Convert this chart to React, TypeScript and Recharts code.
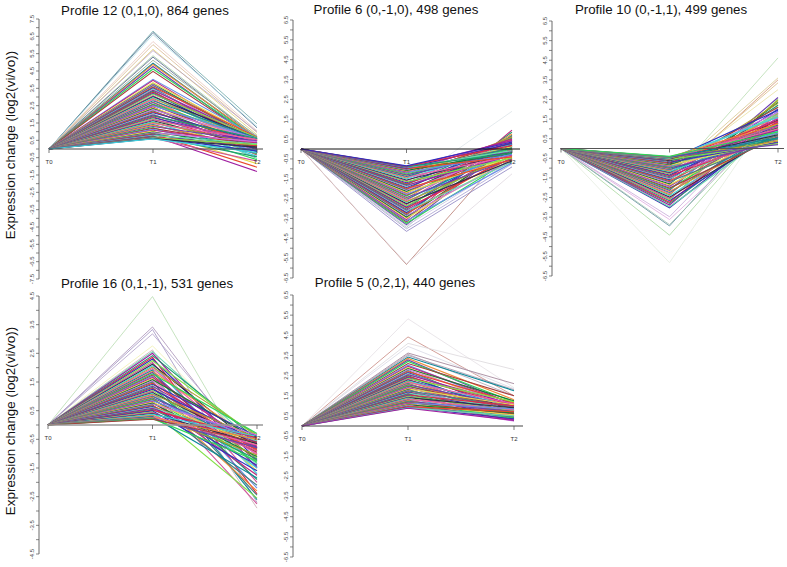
import { LineChart, Line, XAxis, YAxis, ReferenceLine } from "recharts";

const times = [0, 1, 2];
const timeLabels = ["T0", "T1", "T2"];

const ticks75 = [7.5, 7, 6.5, 6, 5.5, 5, 4.5, 4, 3.5, 3, 2.5, 2, 1.5, 1, 0.5, 0, -0.5, -1, -1.5, -2, -2.5, -3, -3.5, -4, -4.5, -5, -5.5, -6, -6.5, -7, -7.5];
const ticks65 = [6.5, 6, 5.5, 5, 4.5, 4, 3.5, 3, 2.5, 2, 1.5, 1, 0.5, 0, -0.5, -1, -1.5, -2, -2.5, -3, -3.5, -4, -4.5, -5, -5.5, -6, -6.5];
const ticks45 = [4.5, 4, 3.5, 3, 2.5, 2, 1.5, 1, 0.5, 0, -0.5, -1, -1.5, -2, -2.5, -3, -3.5, -4, -4.5];

const palette = [
  "#a01fa0", "#1f9a70", "#e02a48", "#2f2fc0", "#84e04a", "#d0559a", "#30304a", "#3fd0e0",
  "#b0a030", "#f060a8", "#0f8a9a", "#f08c3a", "#6f40b0", "#30d858", "#a83c3c", "#6a90e8",
  "#c02a80", "#e8dc50", "#1a7a34", "#d070e0", "#4a8080", "#e84a2a", "#3a30b0", "#70d8b0",
];

// palest / odd lines at the outside of each fan
const p12Outer = ["#6fa8a8", "#4a6a8a", "#a8d8e0", "#e8c8c0", "#d8b890", "#e0d070", "#b8a0c8", "#a0c8a0", "#50608a", "#90a890"];
const p6Outer = ["#b87a70", "#e0d8e0", "#8a80c0", "#a8a0d0", "#b0c8c0", "#c8c0e0", "#dde4e8"];
const p10Outer = ["#b8dcb0", "#d8c890", "#d09070", "#d8b880", "#e8e0a0", "#e4ece0", "#a8d8a0", "#5a8a9a", "#a0c0b0", "#e0a8e0", "#c8a8d8"];
const p16Outer = ["#b8dcb0", "#a890b8", "#a090c0", "#b0a0c8", "#f0f0b0", "#c8a8b0"];
const p5Outer = ["#e4e0e4", "#c88880", "#dcd8dc", "#d8d8e4", "#9a7a90", "#b0a0b0", "#a090a8"];

const p12T1 = [
  6.8, 6.72, 6.6, 6.2, 6.02, 5.75, 5.68, 5.38, 5.3, 5.12,
  4.95, 4.88, 4.76, 4.62, 4.48, 4.02, 3.96, 3.82, 3.74, 3.71,
  3.66, 3.58, 3.52, 3.47, 3.39, 3.33, 3.28, 3.21, 3.17, 3.08,
  3.02, 2.97, 2.91, 2.86, 2.78, 2.71, 2.68, 2.59, 2.54, 2.5,
  2.43, 2.38, 2.33, 2.27, 2.2, 2.14, 2.09, 2.03, 1.97, 1.91,
  1.86, 1.8, 1.76, 1.69, 1.63, 1.58, 1.52, 1.47, 1.41, 1.36,
  1.3, 1.24, 1.19, 1.13, 1.08, 1.03, 0.98, 0.94, 0.9, 0.86,
  0.82, 0.79, 0.75, 0.72, 0.69, 0.66, 0.64, 0.62, 0.6, 0.58,
];
const p12T2 = [
  1.45, 1.22, 1.3, 1.05, 0.95, 0.82, 1.0, 0.7, 0.62, 0.75,
  0.58, 0.66, 0.45, 0.6, 0.52, 0.7, 0.38, 0.64, 0.48, 0.28,
  0.55, 0.68, 0.2, 0.42, 0.6, -0.1, 0.5, 0.34, 0.66, 0.12,
  0.57, 0.25, 0.44, -0.2, 0.62, 0.3, 0.05, 0.53, 0.18, 0.6,
  -0.35, 0.4, 0.1, 0.58, -0.05, 0.32, 0.48, -0.55, 0.22, 0.6,
  0.02, 0.38, -0.3, 0.5, 0.15, -0.42, 0.28, 0.55, -0.15, 0.08,
  0.45, -0.62, 0.2, -0.08, 0.35, -0.85, 0.12, 0.42, -0.25, -1.05,
  0.05, 0.3, -1.3, -0.45, 0.18, -0.12, 0.25, -0.7, 0.1, -0.2,
];

const p6T1 = [
  -5.82, -5.78, -4.15, -4.02, -3.95, -3.87, -1.81, -3.81, -3.74, -3.67, -3.62,
  -3.56, -3.48, -3.43, -3.36, -3.31, -3.25, -3.2, -3.13, -3.08, -3.03,
  -2.96, -2.92, -2.86, -2.8, -2.75, -2.69, -2.65, -2.6, -2.53, -2.49,
  -2.44, -2.37, -2.33, -2.28, -2.22, -2.18, -2.13, -2.07, -2.03, -1.98,
  -1.94, -1.89, -1.83, -1.79, -1.75, -1.7, -1.64, -1.6, -1.56, -1.51,
  -1.46, -1.42, -1.38, -1.33, -1.3, -1.26, -1.21, -1.18, -1.14, -1.11,
  -1.08, -1.04, -1.02, -0.99, -0.96, -0.93, -0.91, -0.89, -0.87, -0.85,
];
const p6T2 = [
  0.2, -1.25, -0.9, -0.75, 0.55, -0.6, 1.9, 0.25, -0.5, 0.3, -0.7,
  0.95, -0.4, 0.15, -0.55, 0.7, -0.3, 0.4, -0.65, 0.05, 0.85,
  -0.45, 0.25, -0.2, 0.6, -0.6, 0.1, -0.35, 0.5, -0.1, 0.75,
  -0.5, 0.35, 0.0, -0.25, 0.45, -0.4, 0.2, -0.15, 0.65, -0.55,
  0.08, 0.3, -0.3, 0.55, -0.05, 0.15, -0.45, 0.4, -0.2, 0.25,
  0.6, -0.35, 0.1, 0.45, -0.1, 0.02, 0.32, -0.28, 0.5, 0.12,
  -0.18, 0.38, 0.05, -0.4, 0.28, -0.08, 0.42, -0.22, 0.18, 0.35,
];

const p10T1 = [
  -1.62, -1.3, -1.55, -1.42, -1.2,
  -5.82, -4.42, -3.95, -3.88, -3.62, -3.48, -3.02, -2.97, -2.88, -2.8,
  -2.74, -2.66, -2.61, -2.55, -2.48, -2.42, -2.36, -2.3, -2.24, -2.19,
  -2.13, -2.07, -2.02, -1.96, -1.91, -1.85, -1.8, -1.74, -1.69, -1.64,
  -1.59, -1.54, -1.49, -1.44, -1.39, -1.35, -1.3, -1.26, -1.22, -1.18,
  -1.14, -1.1, -1.07, -1.03, -1.0, -0.97, -0.94, -0.91, -0.88, -0.85,
  -0.82, -0.79, -0.76, -0.73, -0.7, -0.67, -0.65, -0.62, -0.6, -0.58,
  -0.56, -0.54, -0.52, -0.5, -0.48, -0.46, -0.45, -0.43, -0.42, -0.4,
];
const p10T2 = [
  4.62, 3.6, 3.5, 3.35, 3.0,
  2.3, 1.9, 2.1, 1.7, 1.5, 2.2, 1.3, 1.0, 1.8, 1.2,
  1.6, 0.9, 2.5, 1.4, 0.8, 1.1, 2.45, 1.75, 1.0, 0.7,
  2.6, 1.3, 0.6, 1.9, 1.15, 0.85, 2.35, 1.55, 0.5, 1.0,
  2.0, 0.75, 1.35, 2.2, 0.6, 1.2, 1.8, 0.45, 1.45, 0.9,
  2.3, 1.1, 0.55, 1.65, 0.35, 1.25, 2.1, 0.8, 1.5, 0.4,
  1.05, 1.85, 0.65, 1.3, 0.3, 1.7, 0.95, 0.5, 1.4, 1.95,
  0.25, 1.15, 0.7, 1.6, 0.38, 1.0, 0.55, 1.25, 0.2, 0.85,
];

const p16T1 = [
  4.48, 3.42, 3.33, 3.18, 2.76, 2.62, 2.56, 2.5, 2.42, 2.36,
  2.3, 2.24, 2.18, 2.12, 2.07, 2.02, 1.97, 1.92, 1.87, 1.83,
  1.78, 1.74, 1.7, 1.66, 1.62, 1.58, 1.54, 1.5, 1.46, 1.42,
  1.38, 1.35, 1.31, 1.28, 1.24, 1.2, 1.17, 1.13, 1.1, 1.07,
  1.03, 1.0, 0.97, 0.94, 0.91, 0.88, 0.85, 0.82, 0.79, 0.76,
  0.73, 0.7, 0.67, 0.64, 0.61, 0.58, 0.55, 0.52, 0.49, 0.46,
  0.43, 0.4, 0.37, 0.34, 0.31, 0.29, 0.26, 0.24, 0.22, 0.2,
];
const p16T2 = [
  -1.8, -1.35, -2.7, -1.1, -0.9, -2.9, -0.7, -1.5, -0.5, -2.4,
  -1.2, -0.4, -2.0, -0.8, -1.7, -0.35, -1.0, -2.6, -0.6, -1.45,
  -0.3, -1.25, -2.2, -0.75, -1.6, -0.5, -1.05, -2.45, -0.9, -0.4,
  -1.35, -0.65, -1.9, -0.85, -0.55, -1.15, -2.75, -0.7, -1.5, -0.45,
  -1.0, -0.8, -2.3, -0.6, -1.3, -0.95, -0.5, -1.75, -0.7, -1.1,
  -0.35, -2.1, -0.85, -1.4, -0.55, -0.75, -1.2, -0.45, -1.6, -2.55,
  -0.9, -0.65, -0.4, -1.05, -0.7, -1.85, -0.5, -0.8, -1.25, -0.6,
];

const p5T1 = [
  5.32, 4.42, 4.1, 3.95, 3.62, 3.56, 3.5, 3.42, 3.35, 3.28,
  3.2, 3.1, 3.02, 2.96, 2.9, 2.85, 2.8, 2.75, 2.7, 2.65,
  2.6, 2.55, 2.5, 2.45, 2.4, 2.36, 2.32, 2.28, 2.24, 2.2,
  2.16, 2.12, 2.08, 2.04, 2.0, 1.96, 1.92, 1.88, 1.84, 1.8,
  1.77, 1.74, 1.7, 1.67, 1.63, 1.6, 1.57, 1.54, 1.5, 1.47,
  1.44, 1.41, 1.38, 1.35, 1.32, 1.29, 1.26, 1.23, 1.2, 1.17,
  1.14, 1.11, 1.08, 1.05, 1.02, 0.99, 0.96, 0.93, 0.9, 0.88,
];
const p5T2 = [
  1.9, 1.5, 2.8, 1.85, 2.1, 1.5, 1.8, 1.75, 1.3, 1.05,
  1.2, 1.5, 0.95, 1.1, 0.8, 1.25, 1.0, 0.6, 1.15, 0.75,
  0.9, 1.05, 0.5, 1.0, 0.7, 1.2, 0.45, 0.85, 0.95, 0.6,
  1.1, 0.35, 0.75, 1.0, 0.55, 0.9, 0.4, 0.8, 1.05, 0.3,
  0.65, 0.95, 0.5, 0.7, 0.85, 0.28, 0.6, 1.0, 0.42, 0.75,
  0.55, 0.9, 0.32, 0.68, 0.8, 0.26, 0.5, 0.72, 0.4, 0.6,
  0.85, 0.3, 0.55, 0.65, 0.25, 0.45, 0.7, 0.35, 0.5, 0.28,
];

const FONT = "'Liberation Sans', Arial, sans-serif";

// panel boxes in page pixels
const panels = [
  { title: "Profile 12 (0,1,0), 864 genes", titleX: 145, titleY: 10, t1: p12T1, t2: p12T2, outer: p12Outer, ticks: ticks75, axisX: 39, t0X: 49, t2X: 257, endX: 263, topY: 19, bottomY: 279, zeroColor: "#444", zeroWidth: 1, shift: 0 },
  { title: "Profile 6 (0,-1,0), 498 genes", titleX: 396, titleY: 9, t1: p6T1, t2: p6T2, outer: p6Outer, ticks: ticks65, axisX: 293, t0X: 301, t2X: 512, endX: 520, topY: 20, bottomY: 278, zeroColor: "#111", zeroWidth: 1, shift: 5 },
  { title: "Profile 10 (0,-1,1), 499 genes", titleX: 661, titleY: 9, t1: p10T1, t2: p10T2, outer: p10Outer, ticks: ticks65, axisX: 552, t0X: 561, t2X: 778, endX: 784, topY: 21, bottomY: 276, zeroColor: "#555", zeroWidth: 1, shift: 11 },
  { title: "Profile 16 (0,1,-1), 531 genes", titleX: 147, titleY: 283, t1: p16T1, t2: p16T2, outer: p16Outer, ticks: ticks45, axisX: 39, t0X: 48, t2X: 257, endX: 263, topY: 296, bottomY: 554, zeroColor: "#999", zeroWidth: 1.6, shift: 17 },
  { title: "Profile 5 (0,2,1), 440 genes", titleX: 395, titleY: 282, t1: p5T1, t2: p5T2, outer: p5Outer, ticks: ticks65, axisX: 293, t0X: 302, t2X: 514, endX: 523, topY: 295, bottomY: 557, zeroColor: "#444", zeroWidth: 1, shift: 3 },
];

type Panel = (typeof panels)[number];

const AXIS_W = 20;
const PAD = 8;
const X_H = 2;

const buildRows = (t1: number[], t2: number[]) =>
  times.map((time) => {
    const row: Record<string, number> = { time };
    t1.forEach((v, i) => {
      row[`g${i}`] = time === 0 ? 0 : time === 1 ? v : t2[i];
    });
    return row;
  });

const YTick = ({ x, y, payload }: any) => {
  const v = payload.value;
  // only the odd half steps carry a label
  if (Number.isInteger(v)) return null;
  return (
    <text x={x} y={y} transform={`rotate(-90 ${x} ${y})`} textAnchor="middle" fontSize={6} fontFamily={FONT} fill="#444">
      {v}
    </text>
  );
};

const ProfilePanel = ({ p }: { p: Panel }) => {
  const unit = (p.t2X - p.t0X) / 2;
  const xMin = -(p.t0X - p.axisX) / unit;
  const xMax = 2 + (p.endX - p.t2X) / unit;
  const lim = p.ticks[0];
  const boxTop = p.topY - PAD;
  const zeroY = PAD + (p.bottomY - p.topY) / 2;
  const rows = buildRows(p.t1, p.t2);
  return (
    <div style={{ position: "absolute", left: p.axisX - AXIS_W, top: boxTop }}>
      <LineChart
        width={p.endX - p.axisX + AXIS_W + PAD}
        height={p.bottomY - p.topY + 2 * PAD}
        data={rows}
        margin={{ top: PAD, right: PAD, bottom: PAD - X_H, left: 0 }}
      >
        <XAxis
          dataKey="time"
          type="number"
          domain={[xMin, xMax]}
          ticks={times}
          interval={0}
          allowDataOverflow
          height={X_H}
          axisLine={false}
          tickLine={false}
          tick={(t: any) => (
            <g>
              <line x1={t.x} x2={t.x} y1={zeroY} y2={zeroY + 4} stroke="#444" strokeWidth={0.7} />
              <text x={t.x} y={zeroY + 15} textAnchor="middle" fontSize={6} fontFamily={FONT} fill="#333">
                {timeLabels[t.payload.value]}
              </text>
            </g>
          )}
        />
        <YAxis
          type="number"
          width={AXIS_W}
          domain={[-lim, lim]}
          ticks={p.ticks}
          interval={0}
          allowDataOverflow
          axisLine={{ stroke: "#444", strokeWidth: 0.8 }}
          tickLine={{ stroke: "#555", strokeWidth: 0.7 }}
          tickSize={3}
          tickMargin={2}
          tick={YTick}
        />
        {p.t1.map((_, i) => (
          <Line
            key={i}
            dataKey={`g${i}`}
            stroke={i < p.outer.length ? p.outer[i] : palette[(i + p.shift) % palette.length]}
            strokeWidth={i < p.outer.length ? 0.8 : 1.15}
            dot={false}
            isAnimationActive={false}
          />
        ))}
        <ReferenceLine
          segment={[{ x: 0, y: 0 }, { x: xMax, y: 0 }]}
          stroke={p.zeroColor}
          strokeWidth={p.zeroWidth}
        />
      </LineChart>
    </div>
  );
};

const titleStyle = (x: number, y: number): React.CSSProperties => ({
  position: "absolute",
  left: x,
  top: y,
  transform: "translate(-50%, -50%)",
  whiteSpace: "nowrap",
  fontFamily: FONT,
  fontSize: 13.3,
  color: "#111",
});

const yLabelStyle = (y: number): React.CSSProperties => ({
  position: "absolute",
  left: 10,
  top: y,
  transform: "translate(-50%, -50%) rotate(-90deg)",
  whiteSpace: "nowrap",
  fontFamily: FONT,
  fontSize: 13.4,
  color: "#111",
});

export default function App() {
  return (
    <div style={{ position: "absolute", left: 0, top: 0, width: 787, height: 567, background: "#fff", overflow: "hidden" }}>
      {panels.map((p) => (
        <ProfilePanel key={p.title} p={p} />
      ))}
      {panels.map((p) => (
        <div key={p.title} style={titleStyle(p.titleX, p.titleY)}>
          {p.title}
        </div>
      ))}
      <div style={yLabelStyle(145)}>Expression change (log2(vi/vo))</div>
      <div style={yLabelStyle(421)}>Expression change (log2(vi/vo))</div>
    </div>
  );
}
